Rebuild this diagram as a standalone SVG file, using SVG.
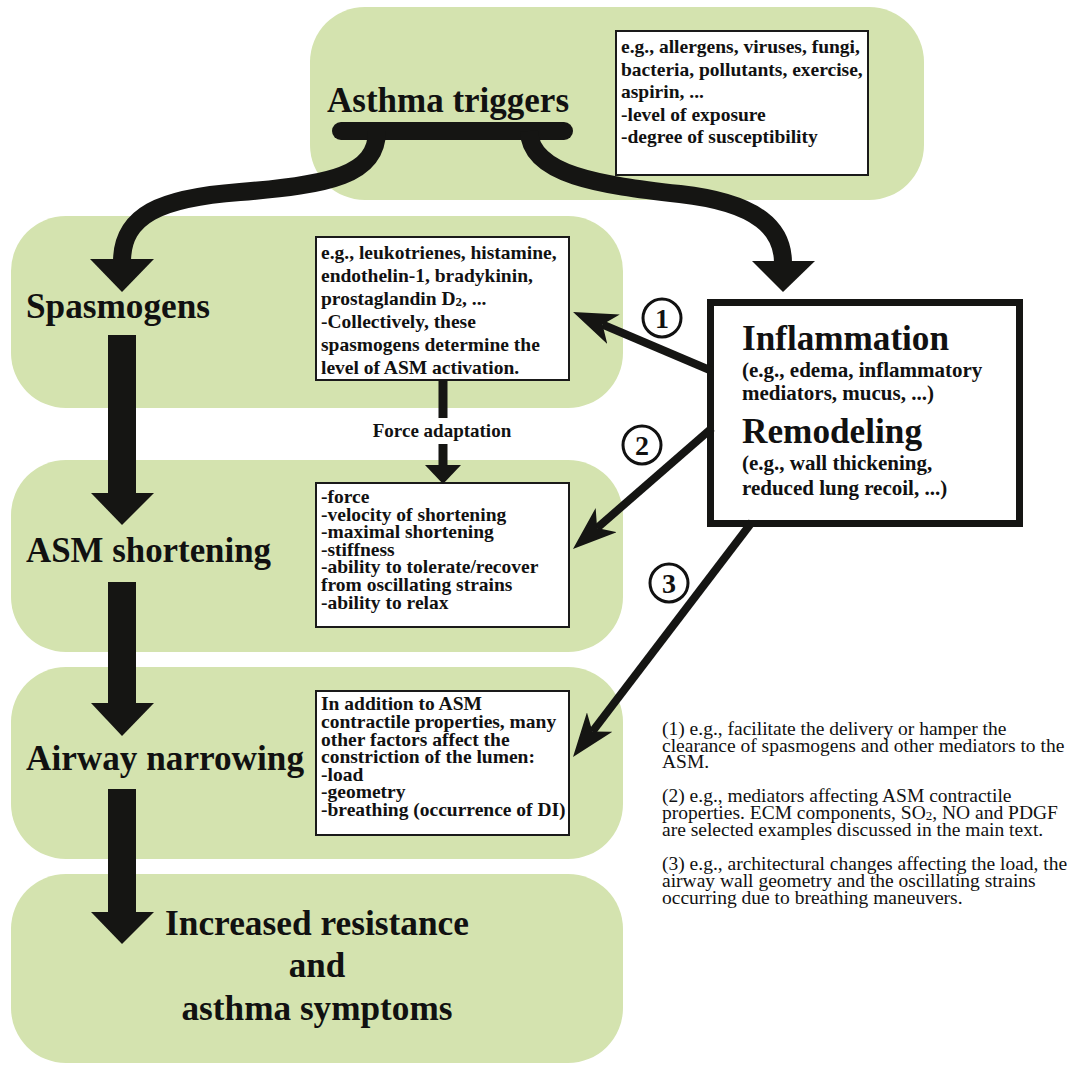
<svg xmlns="http://www.w3.org/2000/svg" width="1067" height="1065" viewBox="0 0 1067 1065">
<style>
.g{fill:#d4e3af}
.wb{fill:#fff;stroke:#1a1a1a;stroke-width:2}
.t{font-family:"Liberation Serif","Times New Roman",serif;font-weight:bold;fill:#111}
.big{font-size:35px}
.sm{font-size:19.5px}
.mid{font-size:21px}
.n{font-family:"Liberation Serif","Times New Roman",serif;font-size:19.5px;fill:#111}
.k{fill:#151513}
.thick{fill:none;stroke:#151513;stroke-width:18}
.thin{fill:none;stroke:#151513;stroke-width:8}
.circ{fill:#fff;stroke:#111;stroke-width:3}
</style>
<defs>
<marker id="stealth" viewBox="0 0 44 32" refX="12" refY="16" markerWidth="44" markerHeight="32" markerUnits="userSpaceOnUse" orient="auto">
<path d="M0,0 L44,16 L0,32 L12,16 Z" fill="#151513"/>
</marker>
</defs>

<g id="node-triggers">
<rect class="g" x="310" y="7" width="614" height="193" rx="55"/>
<text class="t big" x="327" y="112" textLength="242" lengthAdjust="spacingAndGlyphs">Asthma triggers</text>
<rect class="wb" x="616" y="31" width="252" height="144"/>
<text class="t sm" x="621" y="53">e.g., allergens, viruses, fungi,</text>
<text class="t sm" x="621" y="76">bacteria, pollutants, exercise,</text>
<text class="t sm" x="621" y="98">aspirin, ...</text>
<text class="t sm" x="621" y="121">-level of exposure</text>
<text class="t sm" x="621" y="143">-degree of susceptibility</text>
</g>

<g id="node-spasmogens">
<rect class="g" x="11" y="216" width="612" height="192" rx="55"/>
<text class="t big" x="26" y="318" textLength="184" lengthAdjust="spacingAndGlyphs">Spasmogens</text>
<rect class="wb" x="316" y="237" width="253" height="143"/>
<text class="t sm" x="321" y="259">e.g., leukotrienes, histamine,</text>
<text class="t sm" x="321" y="282">endothelin-1, bradykinin,</text>
<text class="t sm" x="321" y="305">prostaglandin D<tspan font-size="13" dy="1">2</tspan><tspan dy="-1">, ...</tspan></text>
<text class="t sm" x="321" y="328">-Collectively, these</text>
<text class="t sm" x="321" y="351">spasmogens determine  the</text>
<text class="t sm" x="321" y="374">level of ASM activation.</text>
</g>

<g id="node-asm">
<rect class="g" x="11" y="460" width="612" height="192" rx="55"/>
<text class="t big" x="26" y="562" textLength="245" lengthAdjust="spacingAndGlyphs">ASM shortening</text>
<rect class="wb" x="316" y="483" width="253" height="144"/>
<text class="t sm" x="321" y="503">-force</text>
<text class="t sm" x="321" y="521">-velocity of shortening</text>
<text class="t sm" x="321" y="538">-maximal shortening</text>
<text class="t sm" x="321" y="556">-stiffness</text>
<text class="t sm" x="321" y="573">-ability to tolerate/recover</text>
<text class="t sm" x="321" y="591">from oscillating strains</text>
<text class="t sm" x="321" y="609">-ability to relax</text>
</g>

<g id="node-airway">
<rect class="g" x="11" y="667" width="612" height="192" rx="55"/>
<text class="t big" x="26" y="770" textLength="278" lengthAdjust="spacingAndGlyphs">Airway narrowing</text>
<rect class="wb" x="316" y="691" width="253" height="144"/>
<text class="t sm" x="321" y="710">In addition to ASM</text>
<text class="t sm" x="321" y="728">contractile properties, many</text>
<text class="t sm" x="321" y="746">other factors affect the</text>
<text class="t sm" x="321" y="763">constriction of the lumen:</text>
<text class="t sm" x="321" y="781">-load</text>
<text class="t sm" x="321" y="798">-geometry</text>
<text class="t sm" x="321" y="816">-breathing (occurrence of DI)</text>
</g>

<g id="node-resistance">
<rect class="g" x="11" y="874" width="612" height="189" rx="55"/>
<text class="t big" x="317" y="935" text-anchor="middle" textLength="304" lengthAdjust="spacingAndGlyphs">Increased resistance</text>
<text class="t big" x="317" y="977" text-anchor="middle">and</text>
<text class="t big" x="317" y="1020" text-anchor="middle" textLength="271" lengthAdjust="spacingAndGlyphs">asthma symptoms</text>
</g>

<g id="node-inflammation">
<rect x="710.5" y="302.5" width="309" height="221" fill="#fff" stroke="#151513" stroke-width="7"/>
<text class="t" x="742" y="350" font-size="36" textLength="207" lengthAdjust="spacingAndGlyphs">Inflammation</text>
<text class="t mid" x="742" y="377">(e.g., edema, inflammatory</text>
<text class="t mid" x="742" y="400">mediators, mucus, ...)</text>
<text class="t" x="742" y="443" font-size="36" textLength="180" lengthAdjust="spacingAndGlyphs">Remodeling</text>
<text class="t mid" x="742" y="470">(e.g., wall thickening,</text>
<text class="t mid" x="742" y="495">reduced lung recoil, ...)</text>
</g>

<g id="notes">
<text class="n" x="662" y="735">(1) e.g., facilitate the delivery or hamper the</text>
<text class="n" x="662" y="752">clearance of spasmogens and other mediators to the</text>
<text class="n" x="662" y="768">ASM.</text>
<text class="n" x="662" y="802">(2) e.g., mediators affecting ASM contractile</text>
<text class="n" x="662" y="819">properties. ECM components, SO<tspan font-size="13" dy="1">2</tspan><tspan dy="-1">, NO and PDGF</tspan></text>
<text class="n" x="662" y="836">are selected examples discussed in the main text.</text>
<text class="n" x="662" y="870">(3) e.g., architectural changes affecting the load, the</text>
<text class="n" x="662" y="887">airway wall geometry and the oscillating strains</text>
<text class="n" x="662" y="904">occurring due to breathing maneuvers.</text>
</g>

<g id="connectors">
<line x1="341" y1="131" x2="564" y2="131" stroke="#151513" stroke-width="18" stroke-linecap="round"/>
<path class="thick" d="M377,131 C377,175 330,185 240,192 C160,198 122,215 122,262"/>
<polygon class="k" points="90,259 154,259 122,292"/>
<path class="thick" d="M529,131 C530,175 600,185 680,194 C760,203 783,230 783,263"/>
<polygon class="k" points="752,261 815,261 783,292"/>

<rect class="k" x="108" y="335" width="28" height="160"/>
<polygon class="k" points="91,493 154,493 122,525"/>
<rect class="k" x="108" y="582" width="28" height="123"/>
<polygon class="k" points="91,703 154,703 122,736"/>
<rect class="k" x="108" y="789" width="28" height="125"/>
<polygon class="k" points="91,912 154,912 122,944"/>

<rect class="k" x="438.5" y="380" width="9" height="38"/>
<text class="t" x="442" y="437" font-size="19" text-anchor="middle">Force adaptation</text>
<rect class="k" x="438.5" y="444" width="9" height="24"/>
<polygon class="k" points="425,465 461,465 443,484"/>

<line class="thin" x1="712" y1="371" x2="602.5" y2="324.5" marker-end="url(#stealth)"/>
<line class="thin" x1="712" y1="428" x2="597.1" y2="528" marker-end="url(#stealth)"/>
<line class="thin" x1="752" y1="522" x2="592.4" y2="731.6" marker-end="url(#stealth)"/>

<g id="label-1"><circle class="circ" cx="662" cy="318" r="19"/><text class="t" x="662" y="328" font-size="28" text-anchor="middle">1</text></g>
<g id="label-2"><circle class="circ" cx="642" cy="445" r="19"/><text class="t" x="642" y="455" font-size="28" text-anchor="middle">2</text></g>
<g id="label-3"><circle class="circ" cx="669" cy="583" r="19"/><text class="t" x="669" y="593" font-size="28" text-anchor="middle">3</text></g>
</g>
</svg>
